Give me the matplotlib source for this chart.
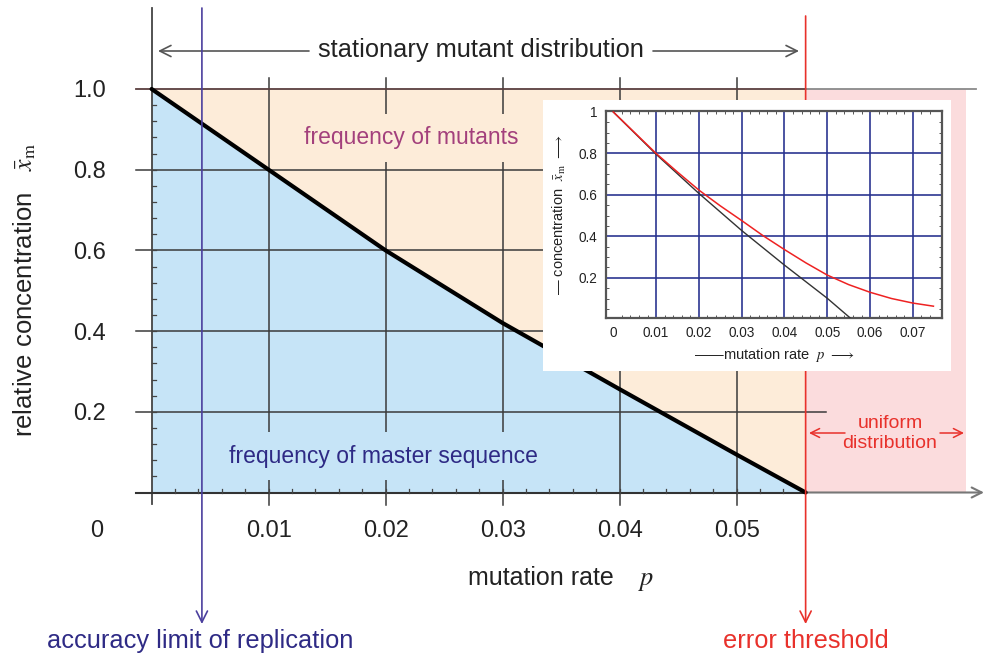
import matplotlib
matplotlib.use("Agg")
import matplotlib.pyplot as plt
from matplotlib.patches import Rectangle
import numpy as np

plt.rcParams['font.family'] = ['Liberation Sans', 'DejaVu Sans']
plt.rcParams['mathtext.fontset'] = 'stix'

# ---------------- data ----------------
x_ticks = [0.01, 0.02, 0.03, 0.04, 0.05]
x_tick_labels = ["0.01", "0.02", "0.03", "0.04", "0.05"]
y_ticks = [0.2, 0.4, 0.6, 0.8, 1.0]
y_tick_labels = ["0.2", "0.4", "0.6", "0.8", "1.0"]
y_grid = [0.2, 0.4, 0.6, 0.8]

p_accuracy = 0.0043       # accuracy limit of replication
p_threshold = 0.0559      # error threshold
p_uniform_end = 0.0696    # right end of uniform-distribution band

# master sequence frequency (main plot)
p_master = [0.0, 0.01, 0.02, 0.03, 0.04, 0.05, 0.0559]
x_master = [1.0, 0.80, 0.60, 0.42, 0.256, 0.094, 0.0]

# inset curves
inset_p_black = [0.0, 0.01, 0.02, 0.03, 0.04, 0.05, 0.0557]
inset_x_black = [1.0, 0.796, 0.607, 0.428, 0.261, 0.101, 0.0]
inset_p_red = [0.0, 0.005, 0.01, 0.015, 0.02, 0.025, 0.03, 0.035, 0.04,
               0.045, 0.05, 0.055, 0.06, 0.065, 0.07, 0.0748]
inset_x_red = [1.0, 0.90, 0.80, 0.71, 0.623, 0.547, 0.476, 0.403, 0.336,
               0.272, 0.213, 0.167, 0.130, 0.100, 0.078, 0.063]
inset_x_ticks = [0, 0.01, 0.02, 0.03, 0.04, 0.05, 0.06, 0.07]
inset_x_tick_labels = ["0", "0.01", "0.02", "0.03", "0.04", "0.05", "0.06", "0.07"]
inset_y_ticks = [0.2, 0.4, 0.6, 0.8, 1.0]
inset_y_tick_labels = ["0.2", "0.4", "0.6", "0.8", "1"]

# ---------------- figure ----------------
W, H = 984, 659
fig = plt.figure(figsize=(W / 100, H / 100), dpi=100)
ax = fig.add_axes([0, 0, 1, 1])
X0, XS = 151.6, 11700.0   # pixel of p=0, pixels per unit p
Y0, YS = 492.5, 403.5     # pixel of x=0, pixels per unit x


def px(v):
    return (v - X0) / XS


def py(v):
    return (Y0 - v) / YS


ax.set_xlim(px(0), px(W))
ax.set_ylim(py(H), py(0))
ax.axis('off')

# colours
c_blue_fill = '#c6e4f7'
c_orange_fill = '#fdecd9'
c_pink_fill = '#fbdcdd'
c_grid = '#3a3a3a'
c_red = '#e8312b'
c_violet = '#4b3f9e'
c_navy = '#2e2a85'

# fills
pm = np.array(p_master)
xm = np.array(x_master)
ax.fill_between(pm, 0, xm, color=c_blue_fill, lw=0, zorder=1)
ax.fill_between(pm, xm, 1.0, color=c_orange_fill, lw=0, zorder=1)
ax.fill_between([p_threshold, p_uniform_end], 0, 1.0, color=c_pink_fill, lw=0, zorder=1)

# grid lines
for yv in y_grid:
    ax.plot([px(136), px(826)], [yv, yv], color=c_grid, lw=1.1, zorder=2)
for xv in x_ticks:
    ax.plot([xv, xv], [py(505), py(78)], color=c_grid, lw=1.1, zorder=2)

# top line (x = 1)
ax.plot([px(136), p_threshold], [1.0, 1.0], color='#5a3f3f', lw=1.3, zorder=2)
ax.plot([p_threshold, px(976)], [1.0, 1.0], color='#8a8a8a', lw=1.3, zorder=2)

# y axis
ax.plot([0, 0], [py(504), py(8)], color='#444444', lw=1.3, zorder=3)
# x axis with arrow
ax.plot([px(136), p_threshold], [0, 0], color='#333333', lw=1.5, zorder=3)
ax.annotate('', xy=(px(984), 0), xytext=(p_threshold, 0),
            arrowprops=dict(arrowstyle='->', color='#777777', lw=1.5,
                            mutation_scale=18, shrinkA=0, shrinkB=0), zorder=3)

# minor ticks
for xv in np.arange(0.002, 0.0559, 0.002):
    ax.plot([xv, xv], [0, py(Y0 - 4)], color='#444444', lw=0.9, zorder=3)
for yv in np.arange(0.04, 1.0, 0.04):
    ax.plot([0, px(X0 + 4)], [yv, yv], color='#444444', lw=0.9, zorder=3)

# master sequence line
ax.plot(pm, xm, color='black', lw=3.0, zorder=5, solid_capstyle='round')

# vertical marker lines with arrows
ax.annotate('', xy=(p_accuracy, py(624)), xytext=(p_accuracy, py(8)),
            arrowprops=dict(arrowstyle='->', color=c_violet, lw=1.2,
                            mutation_scale=20, shrinkA=0, shrinkB=0), zorder=6)
ax.annotate('', xy=(p_threshold, py(624)), xytext=(p_threshold, py(16)),
            arrowprops=dict(arrowstyle='->', color=c_red, lw=1.2,
                            mutation_scale=20, shrinkA=0, shrinkB=0), zorder=6)

# region labels (with background boxes that break the grid lines)
ax.text(px(411), py(138), 'frequency of mutants', fontsize=16.5, color='#a3407c',
        ha='center', va='center', zorder=4,
        bbox=dict(facecolor=c_orange_fill, edgecolor='none', pad=9))
ax.text(px(383), py(456), 'frequency of master sequence', fontsize=16.5, color=c_navy,
        ha='center', va='center', zorder=4,
        bbox=dict(facecolor=c_blue_fill, edgecolor='none', pad=9))

# stationary mutant distribution
ax.text(px(481), py(57), 'stationary mutant distribution', fontsize=18.3,
        color='#222222', ha='center', va='baseline', zorder=6)
ax.annotate('', xy=(px(158), py(51)), xytext=(px(309), py(51)),
            arrowprops=dict(arrowstyle='->', color='#555555', lw=1.2,
                            mutation_scale=20, shrinkA=0, shrinkB=0))
ax.annotate('', xy=(px(799), py(51)), xytext=(px(653), py(51)),
            arrowprops=dict(arrowstyle='->', color='#555555', lw=1.2,
                            mutation_scale=20, shrinkA=0, shrinkB=0))

# uniform distribution
ax.text(px(890), py(428), 'uniform', fontsize=14, color=c_red, ha='center',
        va='baseline', zorder=6)
ax.text(px(890), py(448), 'distribution', fontsize=14, color=c_red, ha='center',
        va='baseline', zorder=6)
ax.annotate('', xy=(px(809), py(433)), xytext=(px(845), py(433)),
            arrowprops=dict(arrowstyle='->', color=c_red, lw=1.1,
                            mutation_scale=16, shrinkA=0, shrinkB=0), zorder=6)
ax.annotate('', xy=(px(964), py(433)), xytext=(px(940), py(433)),
            arrowprops=dict(arrowstyle='->', color=c_red, lw=1.1,
                            mutation_scale=16, shrinkA=0, shrinkB=0), zorder=6)

# tick labels
for xv, lab in zip(x_ticks, x_tick_labels):
    ax.text(xv, py(537), lab, fontsize=17, color='#222222', ha='center', va='baseline')
for yv, lab in zip(y_ticks, y_tick_labels):
    ax.text(px(106), yv - 8.5 / YS, lab, fontsize=17, color='#222222',
            ha='right', va='baseline')
ax.text(px(97), py(537), '0', fontsize=17, color='#222222', ha='center', va='baseline')

# axis labels
ax.text(px(25), py(290), r'relative concentration   $\bar{x}_\mathrm{m}$', fontsize=18.5,
        color='#222222', rotation=90, ha='center', va='center')
ax.text(px(541), py(585), 'mutation rate', fontsize=18, color='#222222',
        ha='center', va='baseline')
ax.text(px(646), py(585), r'$p$', fontsize=19, color='#222222',
        ha='center', va='baseline')

# bottom labels
ax.text(px(200), py(648), 'accuracy limit of replication', fontsize=18.3,
        color=c_navy, ha='center', va='baseline')
ax.text(px(806), py(648), 'error threshold', fontsize=18.3,
        color=c_red, ha='center', va='baseline')

# ---------------- inset ----------------
fig.add_artist(Rectangle((543 / W, 1 - 371 / H), (951 - 543) / W, (371 - 100) / H,
                         transform=fig.transFigure, facecolor='white',
                         edgecolor='none', zorder=2))
axi = fig.add_axes([606 / W, 1 - 318 / H, (942 - 606) / W, (318 - 110.7) / H], zorder=3)
axi.set_xlim(-0.0017, 0.0768)
axi.set_ylim(0.006, 1.006)
for xv in inset_x_ticks[1:]:
    axi.axvline(xv, color='#27318f', lw=1.3, alpha=0.9, zorder=1)
for yv in inset_y_ticks[:-1]:
    axi.axhline(yv, color='#27318f', lw=1.3, alpha=0.9, zorder=1)
axi.plot(inset_p_black, inset_x_black, color='#333333', lw=1.0, zorder=3)
axi.plot(inset_p_red, inset_x_red, color='#ee2222', lw=1.1, zorder=4)
axi.set_xticks(inset_x_ticks)
axi.set_xticklabels(inset_x_tick_labels)
axi.set_yticks(inset_y_ticks)
axi.set_yticklabels(inset_y_tick_labels)
axi.set_xticks(np.arange(0.0, 0.076, 0.002), minor=True)
axi.set_yticks(np.arange(0.05, 1.0, 0.05), minor=True)
axi.tick_params(which='major', length=0, labelsize=9.8, colors='#222222', pad=6)
axi.tick_params(which='minor', direction='in', length=2.5, width=0.7, colors='#555555',
                top=True, right=True)
for s in axi.spines.values():
    s.set_color('#555555')
    s.set_linewidth(1.6)
axi.set_xlabel(r'——mutation rate  $p$ $\longrightarrow$', fontsize=10.5,
               color='#222222', labelpad=4)
axi.set_ylabel(r'— concentration  $\bar{x}_\mathrm{m}$ $\longrightarrow$', fontsize=10.5,
               color='#222222', labelpad=8)

fig.savefig('out.png', dpi=100)
